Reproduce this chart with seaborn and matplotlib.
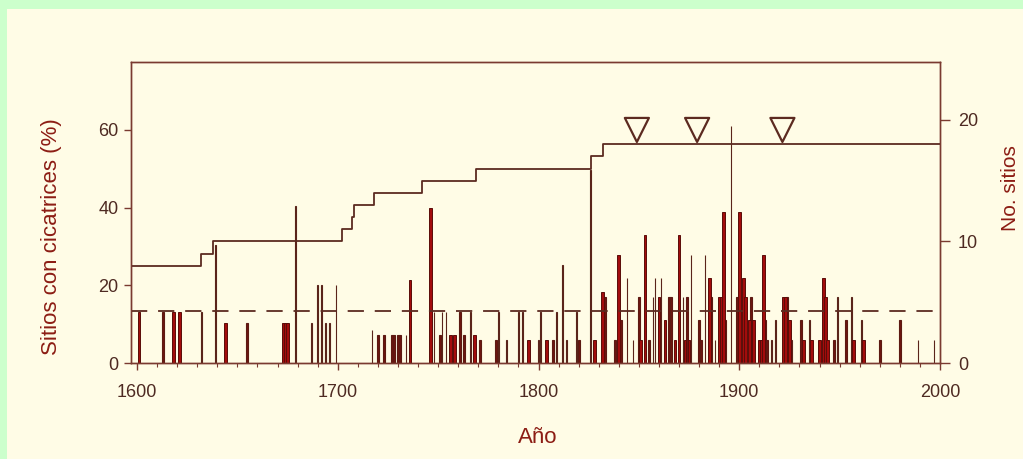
import numpy as np
import pandas as pd
import matplotlib
matplotlib.use("Agg")
import matplotlib.pyplot as plt
from matplotlib.patches import Rectangle
from matplotlib.ticker import MultipleLocator
import seaborn as sns

# ---------------- data ----------------
# thick red bars (year, % sites with scars)
thick_years = [1601, 1618, 1621, 1644, 1673, 1674, 1675, 1736, 1746, 1756, 1758,
               1768, 1795, 1804, 1828, 1832, 1840, 1851, 1853, 1860, 1863, 1868,
               1870, 1873, 1875, 1885, 1890, 1891, 1892, 1900, 1902, 1903, 1905,
               1907, 1910, 1911, 1912, 1922, 1923, 1925, 1932, 1936, 1940, 1942,
               1943, 1944, 1957, 1962]
thick_pct = [13.2, 13.2, 13.2, 10.2, 10.2, 10.2, 10.2, 21.4, 39.8, 7.2, 7.2,
             7.2, 5.9, 5.9, 5.9, 18.4, 27.8, 5.9, 33.0, 17.1, 11.1, 5.9,
             33.0, 5.9, 5.9, 21.8, 17.1, 17.1, 39.0, 39.0, 21.8, 17.1, 11.1,
             11.1, 5.9, 5.9, 27.8, 17.1, 17.1, 11.1, 5.9, 5.9, 5.9, 21.8,
             17.1, 5.9, 5.9, 5.9]

# medium dark bars
mid_years = [1613, 1655, 1720, 1723, 1727, 1728, 1730, 1731, 1751, 1761, 1763,
             1771, 1779, 1807, 1820, 1833, 1838, 1841, 1850, 1855, 1865, 1866,
             1874, 1880, 1881, 1886, 1893, 1899, 1906, 1913, 1914, 1924, 1931,
             1947, 1953, 1970, 1980]
mid_pct = [13.2, 10.2, 7.2, 7.2, 7.2, 7.2, 7.2, 7.2, 7.2, 13.2, 7.2,
           5.9, 5.9, 5.9, 5.9, 17.1, 5.9, 11.1, 17.1, 5.9, 17.1, 17.1,
           17.1, 11.1, 5.9, 17.1, 11.1, 17.1, 17.1, 11.1, 5.9, 17.1, 11.1,
           5.9, 11.1, 5.9, 11.1]

# thin lines
thin_years = [1632, 1639, 1679, 1687, 1690, 1692, 1694, 1696, 1699, 1717, 1734,
              1748, 1752, 1754, 1766, 1780, 1784, 1790, 1792, 1800, 1801, 1809,
              1812, 1814, 1819, 1826, 1844, 1847, 1857, 1858, 1861, 1872, 1876,
              1883, 1888, 1896, 1916, 1918, 1926, 1935, 1949, 1956, 1961, 1989,
              1997]
thin_pct = [13.2, 30.5, 40.3, 10.2, 20.1, 20.1, 10.2, 10.2, 20.1, 8.5, 7.2,
            13.2, 13.2, 13.2, 13.2, 13.2, 5.9, 13.2, 13.2, 5.9, 13.2, 13.2,
            25.2, 5.9, 13.2, 49.7, 21.8, 5.9, 17.1, 21.8, 21.8, 17.1, 27.8,
            27.8, 5.9, 61.0, 5.9, 11.1, 5.9, 11.1, 17.1, 17.1, 11.1, 5.9,
            5.9]

# number of recording sites (step line, right axis)
step_years = [1597, 1632, 1638, 1702, 1707, 1708, 1718, 1742, 1769, 1826, 1832, 2000]
step_sites = [8, 9, 10, 11, 12, 13, 14, 15, 16, 17, 18, 18]

# threshold (dashed line) and marked years (triangles)
threshold_pct = 13.3
marked_years = [1849, 1879, 1921.5]
marked_level = [60, 60, 60]

x_ticks = [1600, 1700, 1800, 1900, 2000]
left_ticks = [0, 20, 40, 60]
right_ticks = [0, 10, 20]

# ---------------- style ----------------
GREEN = "#ccffcc"
CREAM = "#fffce6"
RED = "#a30c0c"
DARK = "#5c1a12"
THIN = "#5a241a"
LINEC = "#5c2a20"
SPINE = "#7a3a30"
TICKC = "#4e2a22"
LABELC = "#8c1d14"

sns.set_theme(style="white")
plt.rcParams["font.family"] = ["Liberation Sans", "DejaVu Sans"]

W, H = 1023, 459
fig = plt.figure(figsize=(W / 100, H / 100), dpi=100, facecolor=GREEN)
bg = Rectangle((7 / W, 0), 1 - 7 / W, (H - 9) / H,
               transform=fig.transFigure, facecolor=CREAM,
               edgecolor="none", zorder=-10)
fig.patches.append(bg)

L, R, T, B = 131, 940, 62, 363
ax = fig.add_axes([L / W, (H - B) / H, (R - L) / W, (B - T) / H])
ax.set_facecolor("none")
ax.set_zorder(1)

thick_df = pd.DataFrame({"year": thick_years, "pct": thick_pct})
mid_df = pd.DataFrame({"year": mid_years, "pct": mid_pct})
thin_df = pd.DataFrame({"year": thin_years, "pct": thin_pct})

sns.barplot(data=thin_df, x="year", y="pct", native_scale=True, width=0.25,
            color=THIN, edgecolor=THIN, linewidth=0.8, saturation=1,
            errorbar=None, ax=ax)
sns.barplot(data=mid_df, x="year", y="pct", native_scale=True, width=1.0,
            color="#6e1510", edgecolor=DARK, linewidth=0.8, saturation=1,
            errorbar=None, ax=ax)
sns.barplot(data=thick_df, x="year", y="pct", native_scale=True, width=1.4,
            color=RED, edgecolor="#5a0c08", linewidth=0.7, saturation=1,
            errorbar=None, ax=ax)

ax.axhline(threshold_pct, color=LINEC, lw=1.3, dashes=(9, 6), zorder=3)

sns.scatterplot(x=marked_years, y=marked_level, marker="v", s=300,
                facecolors="none", edgecolor=LINEC, linewidth=1.6, ax=ax,
                zorder=5)

ax.set_xlim(1597, 2000)
ax.set_ylim(0, 77.5)
ax.set_xticks(x_ticks)
ax.set_xticklabels([str(v) for v in x_ticks])
ax.xaxis.set_minor_locator(MultipleLocator(10))
ax.set_yticks(left_ticks)
ax.set_yticklabels([str(v) for v in left_ticks])

ax2 = ax.twinx()
ax2.set_facecolor("none")
ax2.set_zorder(2)
step_df = pd.DataFrame({"year": step_years, "sites": step_sites})
sns.lineplot(data=step_df, x="year", y="sites", drawstyle="steps-post",
             estimator=None, color=LINEC, lw=1.3, ax=ax2)
ax2.set_ylim(0, 24.77)
ax2.set_yticks(right_ticks)
ax2.set_yticklabels([str(v) for v in right_ticks])
ax2.set_xlim(1597, 2000)

for a in (ax, ax2):
    for s in a.spines.values():
        s.set_visible(True)
        s.set_color(SPINE)
        s.set_linewidth(1.0)

ax.tick_params(axis="x", which="major", direction="out", length=5, width=1,
               color=SPINE, labelcolor=TICKC, labelsize=13, pad=10,
               bottom=True)
ax.tick_params(axis="x", which="minor", direction="out", length=3, width=0.8,
               color=SPINE, bottom=True)
ax.tick_params(axis="y", direction="out", length=5, width=1, color=SPINE,
               labelcolor=TICKC, labelsize=13, pad=4, left=True)
ax2.tick_params(axis="y", direction="out", length=7, width=1, color=SPINE,
                labelcolor=TICKC, labelsize=13, pad=6, right=True)

ax.set_xlabel("Año", fontsize=16, color=LABELC)
ax.xaxis.set_label_coords(0.503, -0.213)
ax.set_ylabel("Sitios con cicatrices (%)", fontsize=16, color=LABELC)
ax.yaxis.set_label_coords(-0.085, 0.42)
ax2.set_ylabel("No. sitios", fontsize=15, color=LABELC, rotation=90)
ax2.yaxis.set_label_coords(1.075, 0.58)

fig.savefig("out.png", dpi=100, facecolor=GREEN)
